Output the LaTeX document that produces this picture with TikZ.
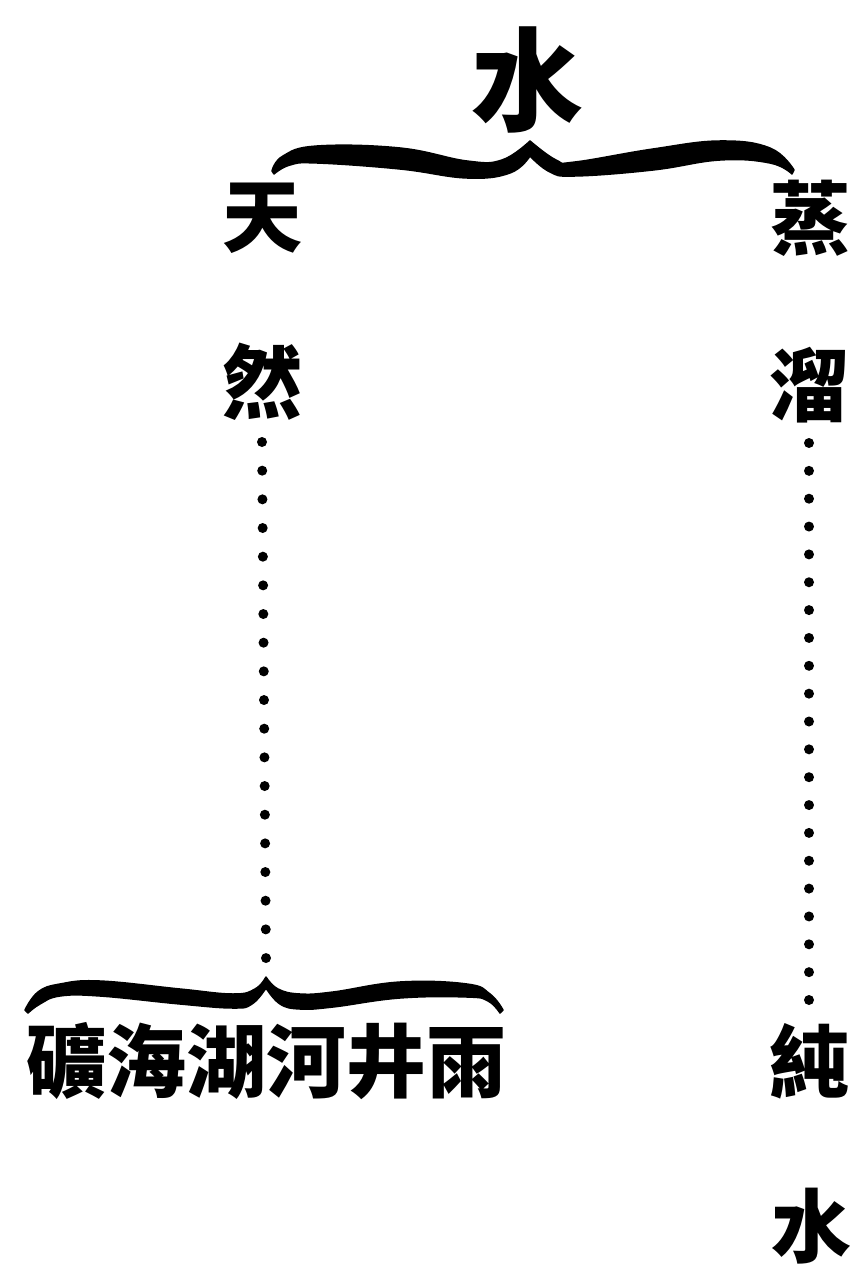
\documentclass[tikz,border=0pt]{standalone}
\usepackage{fontspec}
\newfontfamily\cjk{Noto Sans CJK TC}
\begin{document}
\begin{tikzpicture}[x=1pt,y=-1pt,
  hanzi/.style={inner sep=0pt,font=\cjk\bfseries\fontsize{80}{80}\selectfont},
  bighanzi/.style={inner sep=0pt,font=\cjk\bfseries\fontsize{112}{112}\selectfont},
  dotline/.style={line width=10pt,line cap=round,dash pattern=on 0pt off #1},
  bracefill/.style={fill=black,draw=black,line width=1.5pt,line join=round}]
\useasboundingbox (0,0) rectangle (864,1268);
% nodes
\node[bighanzi] (shui) at (527,80) {水};
\node[hanzi] (tian) at (262,218) {天};
\node[hanzi] (ran) at (262,382) {然};
\node[hanzi] (zheng) at (810,218) {蒸};
\node[hanzi] (liu) at (809,385) {溜};
\node[hanzi] (chun) at (809,1061) {純};
\node[hanzi] (shui2) at (811,1226) {水};
\node[hanzi] (srcs) at (266,1061) {礦海湖河井雨};
% top brace
\fill[bracefill] plot[smooth,tension=0.7] coordinates {(272,171) (283,156) (317,146) (400,148) (467,161) (502,160) (530,141)}
 -- plot[smooth,tension=0.7] coordinates {(530,141) (556,160) (575,162) (653,149) (720,141) (770,148) (794,170)}
 -- plot[smooth,tension=0.7] coordinates {(792,174) (770,163) (720,160) (653,170) (575,176) (550,172) (530,156)}
 -- plot[smooth,tension=0.7] coordinates {(530,156) (510,173) (467,178) (400,169) (317,163) (290,165) (274,174)}
 -- cycle;
% bottom brace
\coordinate (btip) at (266,958.5);
\fill[bracefill] plot[smooth,tension=0.7] coordinates {(25,1010) (38,992) (60,984) (100,981) (180,989) (233,994) (255,989) (266,977)}
 -- plot[smooth,tension=0.7] coordinates {(266,977) (278,989) (300,994) (333,992) (400,982) (467,984) (490,994) (503,1010)}
 -- plot[smooth,tension=0.7] coordinates {(500,1013) (488,1001) (467,997) (400,998) (333,1007) (300,1009) (280,1004) (266,988)}
 -- plot[smooth,tension=0.7] coordinates {(266,988) (252,1004) (233,1008) (180,1004) (100,996) (60,996) (40,1004) (28,1013)}
 -- cycle;
% dotted connectors
\draw[dotline=28.67pt] (ran.south |- 0,442) -- (btip);
\draw[dotline=27.85pt] (liu.south |- 0,443) -- (chun.north |- 0,1000.5);
\end{tikzpicture}
\end{document}
